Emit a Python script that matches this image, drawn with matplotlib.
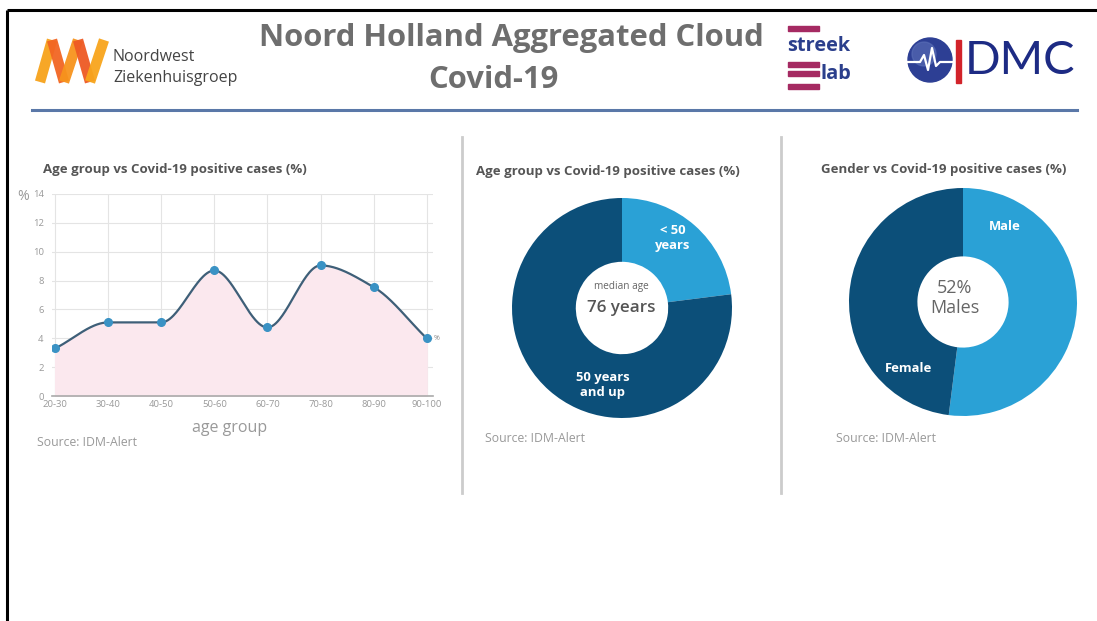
import numpy as np
import matplotlib
matplotlib.use("Agg")
import matplotlib.pyplot as plt
from matplotlib import font_manager
from matplotlib.patches import Circle, Rectangle

# ---------------- data ----------------
age_groups = ["20-30", "30-40", "40-50", "50-60", "60-70", "70-80", "80-90", "90-100"]
age_pct = [3.3, 5.1, 5.1, 8.7, 4.75, 9.05, 7.55, 4.0]
y_ticks = [0, 2, 4, 6, 8, 10, 12, 14]

age_split_labels = ["< 50\nyears", "50 years\nand up"]
age_split_values = [23, 77]
median_age_text = "76 years"

gender_labels = ["Male", "Female"]
gender_values = [52, 48]
gender_center_text = "52%\nMales"

# ---------------- fonts ----------------
avail = {f.name for f in font_manager.fontManager.ttflist}
NARROW = "Liberation Sans Narrow" if "Liberation Sans Narrow" in avail else "Open Sans"
BASE = "Open Sans" if "Open Sans" in avail else "DejaVu Sans"
plt.rcParams["font.family"] = [BASE, "DejaVu Sans"]

W, H = 1097, 621
fig = plt.figure(figsize=(W / 100, H / 100), dpi=100)
fig.patch.set_facecolor("white")

def px(s):  # pixel size -> points
    return s * 0.72

def frac(x0, y0, x1, y1):  # pixel box (top-left origin) -> figure fraction
    return [x0 / W, 1 - y1 / H, (x1 - x0) / W, (y1 - y0) / H]

# overlay axes in pixel coordinates
ov = fig.add_axes([0, 0, 1, 1])
ov.set_xlim(0, W)
ov.set_ylim(H, 0)
ov.axis("off")
ov.patch.set_visible(False)

# border (top + left)
ov.plot([7, W], [10, 10], color="black", lw=2.2, solid_capstyle="butt")
ov.plot([7, 7], [10, H], color="black", lw=2.2, solid_capstyle="butt")

# header blue rule
ov.plot([32, 1077], [110, 110], color="#5a78a8", lw=2.2)

# header title
ov.text(511, 38, "Noord Holland Aggregated Cloud", ha="center", va="center",
        fontsize=px(31), family=NARROW, color="#6e6e6e", fontweight="bold")
ov.text(493, 80, "Covid-19", ha="center", va="center",
        fontsize=px(31), family=NARROW, color="#6e6e6e", fontweight="bold")

# Noordwest logo
zig = [(40, 82), (52, 40), (64, 82), (78, 40), (90, 82), (104, 40)]
zcols = ["#f7a21b", "#f26522", "#f7941d", "#ee5a24", "#f8a51c"]
for (p, q), c in zip(zip(zig[:-1], zig[1:]), zcols):
    ov.plot([p[0], q[0]], [p[1], q[1]], color=c, lw=7.5, solid_capstyle="butt", alpha=0.95)
ov.text(113, 57, "Noordwest", ha="left", va="center", fontsize=px(16), color="#444444")
ov.text(113, 78, "Ziekenhuisgroep", ha="left", va="center", fontsize=px(16), color="#444444")

# streeklab logo
bar_c = "#a52a62"
for yb in [28, 64, 73, 86]:
    ov.add_patch(Rectangle((788, yb - 2.5), 31, 5, color=bar_c))
ov.text(787, 46, "streek", ha="left", va="center", fontsize=px(20), color="#2b3f8c",
        fontweight="bold", family=NARROW)
ov.text(821, 74, "lab", ha="left", va="center", fontsize=px(20), color="#2b3f8c",
        fontweight="bold", family=NARROW)

# IDMC logo
ov.add_patch(Circle((930, 60), 22, color="#2d3f94"))
ov.add_patch(Circle((924, 54), 12, color="#5c70b8", alpha=0.6))
ecg_x = [908, 920, 924, 928, 932, 936, 940, 952]
ecg_y = [62, 62, 55, 70, 48, 66, 62, 62]
ov.plot(ecg_x, ecg_y, color="white", lw=1.6)
ov.add_patch(Rectangle((956, 40), 4.5, 43, color="#d2232a"))
ov.text(965, 61, "DMC", ha="left", va="center", fontsize=px(47), color="#1d2b84",
        family="Lato" if "Lato" in avail else BASE)

# separators
ov.plot([462, 462], [137, 493], color="#cccccc", lw=2)
ov.plot([781, 781], [137, 493], color="#cccccc", lw=2)

TITLE_C = "#555555"
SRC_C = "#999999"

# ---------------- panel 1: line chart ----------------
ov.text(43, 170, "Age group vs Covid-19 positive cases (%)", ha="left", va="center",
        fontsize=px(13.2), color=TITLE_C, fontweight="bold")
ax = fig.add_axes(frac(52, 194, 433, 396))
x = np.arange(len(age_groups))
y = np.array(age_pct, dtype=float)

# monotone cubic (PCHIP) smoothing of the series
def pchip(xk, yk, xs):
    h = np.diff(xk)
    d = np.diff(yk) / h
    m = np.zeros_like(yk)
    for i in range(1, len(yk) - 1):
        if d[i - 1] * d[i] <= 0:
            m[i] = 0.0
        else:
            w1 = 2 * h[i] + h[i - 1]
            w2 = h[i] + 2 * h[i - 1]
            m[i] = (w1 + w2) / (w1 / d[i - 1] + w2 / d[i])
    m[0] = d[0]
    m[-1] = d[-1]
    out = np.empty_like(xs)
    for j, xv in enumerate(xs):
        i = min(max(np.searchsorted(xk, xv) - 1, 0), len(xk) - 2)
        t = (xv - xk[i]) / h[i]
        h00 = 2 * t**3 - 3 * t**2 + 1
        h10 = t**3 - 2 * t**2 + t
        h01 = -2 * t**3 + 3 * t**2
        h11 = t**3 - t**2
        out[j] = h00 * yk[i] + h10 * h[i] * m[i] + h01 * yk[i + 1] + h11 * h[i] * m[i + 1]
    return out

xs = np.linspace(x[0], x[-1], 400)
ys = pchip(x.astype(float), y, xs)
ax.fill_between(xs, 0, ys, color="#fbe8ee", zorder=1)
ax.plot(xs, ys, color="#3e5f78", lw=1.6, zorder=3)
ax.plot(x, y, "o", color="#3a92c4", ms=5.5, zorder=4)
ax.set_xlim(-0.06, 7.12)
ax.set_ylim(0, 14)
ax.set_xticks(x)
ax.set_xticklabels(age_groups)
ax.set_yticks(y_ticks)
ax.grid(True, color="#e4e4e4", lw=0.8)
ax.set_axisbelow(True)
for s in ["top", "right", "left"]:
    ax.spines[s].set_visible(False)
ax.spines["bottom"].set_color("#aaaaaa")
ax.spines["bottom"].set_linewidth(1.2)
ax.tick_params(axis="both", length=0, labelsize=px(9.5), labelcolor="#999999", pad=3)
ax.tick_params(axis="y", pad=6)
ax.patch.set_visible(False)
ov.text(230, 428, "age group", ha="center", va="center", fontsize=px(16), color="#999999")
ov.text(23, 196, "%", ha="center", va="center", fontsize=px(14), color="#999999")
ov.text(437, 339, "%", ha="center", va="center", fontsize=px(7), color="#888888")
ov.text(37, 443, "Source: IDM-Alert", ha="left", va="center", fontsize=px(12.2), color=SRC_C)

# ---------------- panel 2: age donut ----------------
DARK = "#0c4f79"
LIGHT = "#2aa1d6"
ov.text(608, 172, "Age group vs Covid-19 positive cases (%)", ha="center", va="center",
        fontsize=px(13.2), color=TITLE_C, fontweight="bold")
cx, cy, r = 622, 308, 110
a2 = fig.add_axes(frac(cx - r, cy - r, cx + r, cy + r))
a2.pie(age_split_values, colors=[LIGHT, DARK], startangle=90, counterclock=False,
       radius=1, wedgeprops=dict(width=0.58, linewidth=0))
a2.set_xlim(-1, 1)
a2.set_ylim(-1, 1)
a2.set_aspect("equal")
a2.axis("off")
ov.text(673, 238, age_split_labels[0], ha="center", va="center", fontsize=px(13),
        color="white", fontweight="bold", linespacing=1.25)
ov.text(603, 385, age_split_labels[1], ha="center", va="center", fontsize=px(13),
        color="white", fontweight="bold", linespacing=1.25)
ov.text(621, 287, "median age", ha="center", va="center", fontsize=px(10), color="#666666")
ov.text(621, 308, median_age_text, ha="center", va="center", fontsize=px(17),
        color="#555555", fontweight="semibold")
ov.text(485, 438, "Source: IDM-Alert", ha="left", va="center", fontsize=px(12.2), color=SRC_C)

# ---------------- panel 3: gender donut ----------------
ov.text(944, 170, "Gender vs Covid-19 positive cases (%)", ha="center", va="center",
        fontsize=px(13.2), color=TITLE_C, fontweight="bold")
cx, cy, r = 963, 302, 114
a3 = fig.add_axes(frac(cx - r, cy - r, cx + r, cy + r))
a3.pie(gender_values, colors=[LIGHT, DARK], startangle=90, counterclock=False,
       radius=1, wedgeprops=dict(width=0.6, linewidth=0))
a3.set_xlim(-1, 1)
a3.set_ylim(-1, 1)
a3.set_aspect("equal")
a3.axis("off")
ov.text(1005, 227, gender_labels[0], ha="center", va="center", fontsize=px(13),
        color="white", fontweight="bold")
ov.text(908, 368, gender_labels[1], ha="center", va="center", fontsize=px(13),
        color="white", fontweight="bold")
ov.text(955, 298, gender_center_text, ha="center", va="center", fontsize=px(18),
        color="#666666", linespacing=1.2)
ov.text(836, 438, "Source: IDM-Alert", ha="left", va="center", fontsize=px(12.2), color=SRC_C)

ov.set_zorder(10)
fig.savefig("out.png", dpi=100, facecolor="white")
